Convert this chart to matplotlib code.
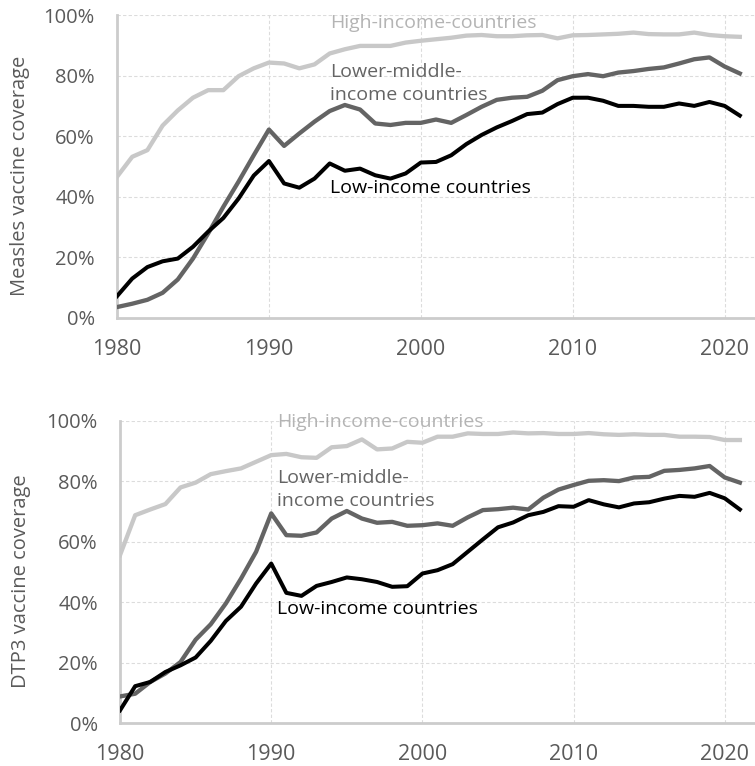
import matplotlib
matplotlib.use("Agg")
import matplotlib.pyplot as plt
from matplotlib.ticker import FuncFormatter

plt.rcParams['font.family'] = ['Open Sans', 'DejaVu Sans']

years = list(range(1980, 2022))

# Measles first-dose coverage (%)
measles_high = [46.6, 53.2, 55.4, 63.5, 68.5, 72.7, 75.2, 75.2, 79.8, 82.4,
                84.3, 84.0, 82.4, 83.7, 87.3, 88.7, 89.8, 89.8, 89.8, 90.9,
                91.5, 92.0, 92.5, 93.2, 93.4, 93.0, 93.0, 93.3, 93.4, 92.3,
                93.3, 93.4, 93.6, 93.8, 94.2, 93.7, 93.6, 93.6, 94.2, 93.4,
                93.0, 92.8]
measles_lower_middle = [3.6, 4.7, 6.0, 8.3, 12.7, 19.6, 27.9, 36.7, 45.0, 53.7,
                        62.2, 56.8, 60.9, 64.8, 68.3, 70.3, 68.8, 64.2, 63.7, 64.4,
                        64.4, 65.5, 64.4, 67.0, 69.7, 72.0, 72.7, 73.0, 75.0, 78.5,
                        79.8, 80.5, 79.8, 81.0, 81.5, 82.2, 82.7, 84.0, 85.4, 86.0,
                        83.0, 80.7]
measles_low = [7.2, 13.0, 16.8, 18.7, 19.6, 23.5, 28.5, 33.0, 39.4, 47.0,
               51.8, 44.4, 43.0, 46.0, 51.0, 48.6, 49.3, 47.1, 46.0, 47.7,
               51.3, 51.5, 53.7, 57.4, 60.4, 62.9, 65.0, 67.3, 67.8, 70.6,
               72.7, 72.7, 71.7, 70.0, 70.0, 69.7, 69.7, 70.8, 70.0, 71.3,
               70.0, 66.8]

# DTP3 coverage (%)
dtp3_high = [55.6, 68.8, 70.7, 72.5, 78.0, 79.6, 82.4, 83.4, 84.3, 86.5,
             88.7, 89.1, 88.0, 87.8, 91.3, 91.7, 93.9, 90.6, 90.9, 93.1,
             92.8, 94.8, 94.8, 95.9, 95.7, 95.7, 96.2, 95.9, 96.0, 95.7,
             95.7, 96.0, 95.6, 95.4, 95.6, 95.4, 95.4, 94.8, 94.8, 94.7,
             93.7, 93.7]
dtp3_lower_middle = [8.8, 9.7, 13.6, 16.4, 20.2, 27.6, 32.7, 39.6, 47.8, 56.7,
                     69.4, 62.2, 62.0, 63.1, 67.7, 70.2, 67.7, 66.3, 66.6, 65.3,
                     65.5, 66.1, 65.3, 68.1, 70.5, 70.8, 71.3, 70.7, 74.6, 77.3,
                     78.8, 80.2, 80.4, 80.1, 81.3, 81.5, 83.5, 83.8, 84.3, 85.1,
                     81.3, 79.6]
dtp3_low = [4.2, 12.2, 13.6, 16.9, 19.1, 21.7, 27.2, 33.8, 38.5, 46.2,
            52.8, 43.1, 42.1, 45.4, 46.7, 48.2, 47.6, 46.7, 45.1, 45.3,
            49.5, 50.6, 52.6, 56.7, 60.8, 64.8, 66.4, 68.8, 69.9, 71.8,
            71.6, 73.8, 72.4, 71.4, 72.7, 73.1, 74.3, 75.2, 74.9, 76.2,
            74.4, 70.7]

y_ticks = [0, 20, 40, 60, 80, 100]
x_ticks = [1980, 1990, 2000, 2010, 2020]

label_high = "High-income-countries"
label_lower_middle = "Lower-middle-\nincome countries"
label_low = "Low-income countries"

c_high = "#c8c8c8"
c_high_text = "#b4b4b4"
c_mid = "#646464"
c_low = "#000000"
c_tick = "#5a5a5a"
c_axis = "#cccccc"
c_grid = "#dcdcdc"

fig = plt.figure(figsize=(7.55, 7.66), dpi=100)
ax1 = fig.add_axes([0.155, 0.5849, 0.845, 0.3955])
ax2 = fig.add_axes([0.159, 0.0561, 0.841, 0.3943])


def style(ax, ylabel):
    ax.set_xlim(1980, 2022)
    ax.set_ylim(0, 100)
    ax.set_yticks(y_ticks)
    ax.set_xticks(x_ticks)
    ax.yaxis.set_major_formatter(FuncFormatter(lambda v, p: f"{int(v)}%"))
    ax.tick_params(axis='y', length=0, labelsize=14.5, colors=c_tick, pad=16)
    ax.tick_params(axis='x', length=0, labelsize=15.5, colors=c_tick, pad=15)
    for s in ("top", "right"):
        ax.spines[s].set_visible(False)
    for s in ("left", "bottom"):
        ax.spines[s].set_color(c_axis)
        ax.spines[s].set_linewidth(2)
    for y in y_ticks[1:]:
        ax.axhline(y, color=c_grid, lw=0.8, ls=(0, (3, 2)), zorder=0)
    for x in x_ticks[1:]:
        ax.axvline(x, color=c_grid, lw=0.8, ls=(0, (3, 2)), zorder=0)
    ax.set_ylabel(ylabel, fontsize=14.5, color=c_tick)


def draw(ax, high, mid, low, lbl_x, y_high, y_mid, y_low):
    ax.plot(years, high, color=c_high, lw=3.1, solid_joinstyle='round', zorder=3)
    ax.plot(years, mid, color=c_mid, lw=3.1, solid_joinstyle='round', zorder=4)
    ax.plot(years, low, color=c_low, lw=2.9, solid_joinstyle='round', zorder=5)
    ax.text(lbl_x, y_high, label_high, color=c_high_text, fontsize=14, va='center', ha='left')
    ax.text(lbl_x, y_mid, label_lower_middle, color=c_mid, fontsize=14, va='center', ha='left',
            linespacing=1.35)
    ax.text(lbl_x, y_low, label_low, color=c_low, fontsize=14, va='center', ha='left')


style(ax1, "Measles vaccine coverage")
style(ax2, "DTP3 vaccine coverage")
draw(ax1, measles_high, measles_lower_middle, measles_low, 1994.0, 97.4, 77.5, 42.9)
draw(ax2, dtp3_high, dtp3_lower_middle, dtp3_low, 1990.4, 99.7, 77.2, 37.7)

ax1.yaxis.set_label_coords(-0.136, 0.47)
ax2.yaxis.set_label_coords(-0.141, 0.47)

fig.savefig("out.png", dpi=100)
